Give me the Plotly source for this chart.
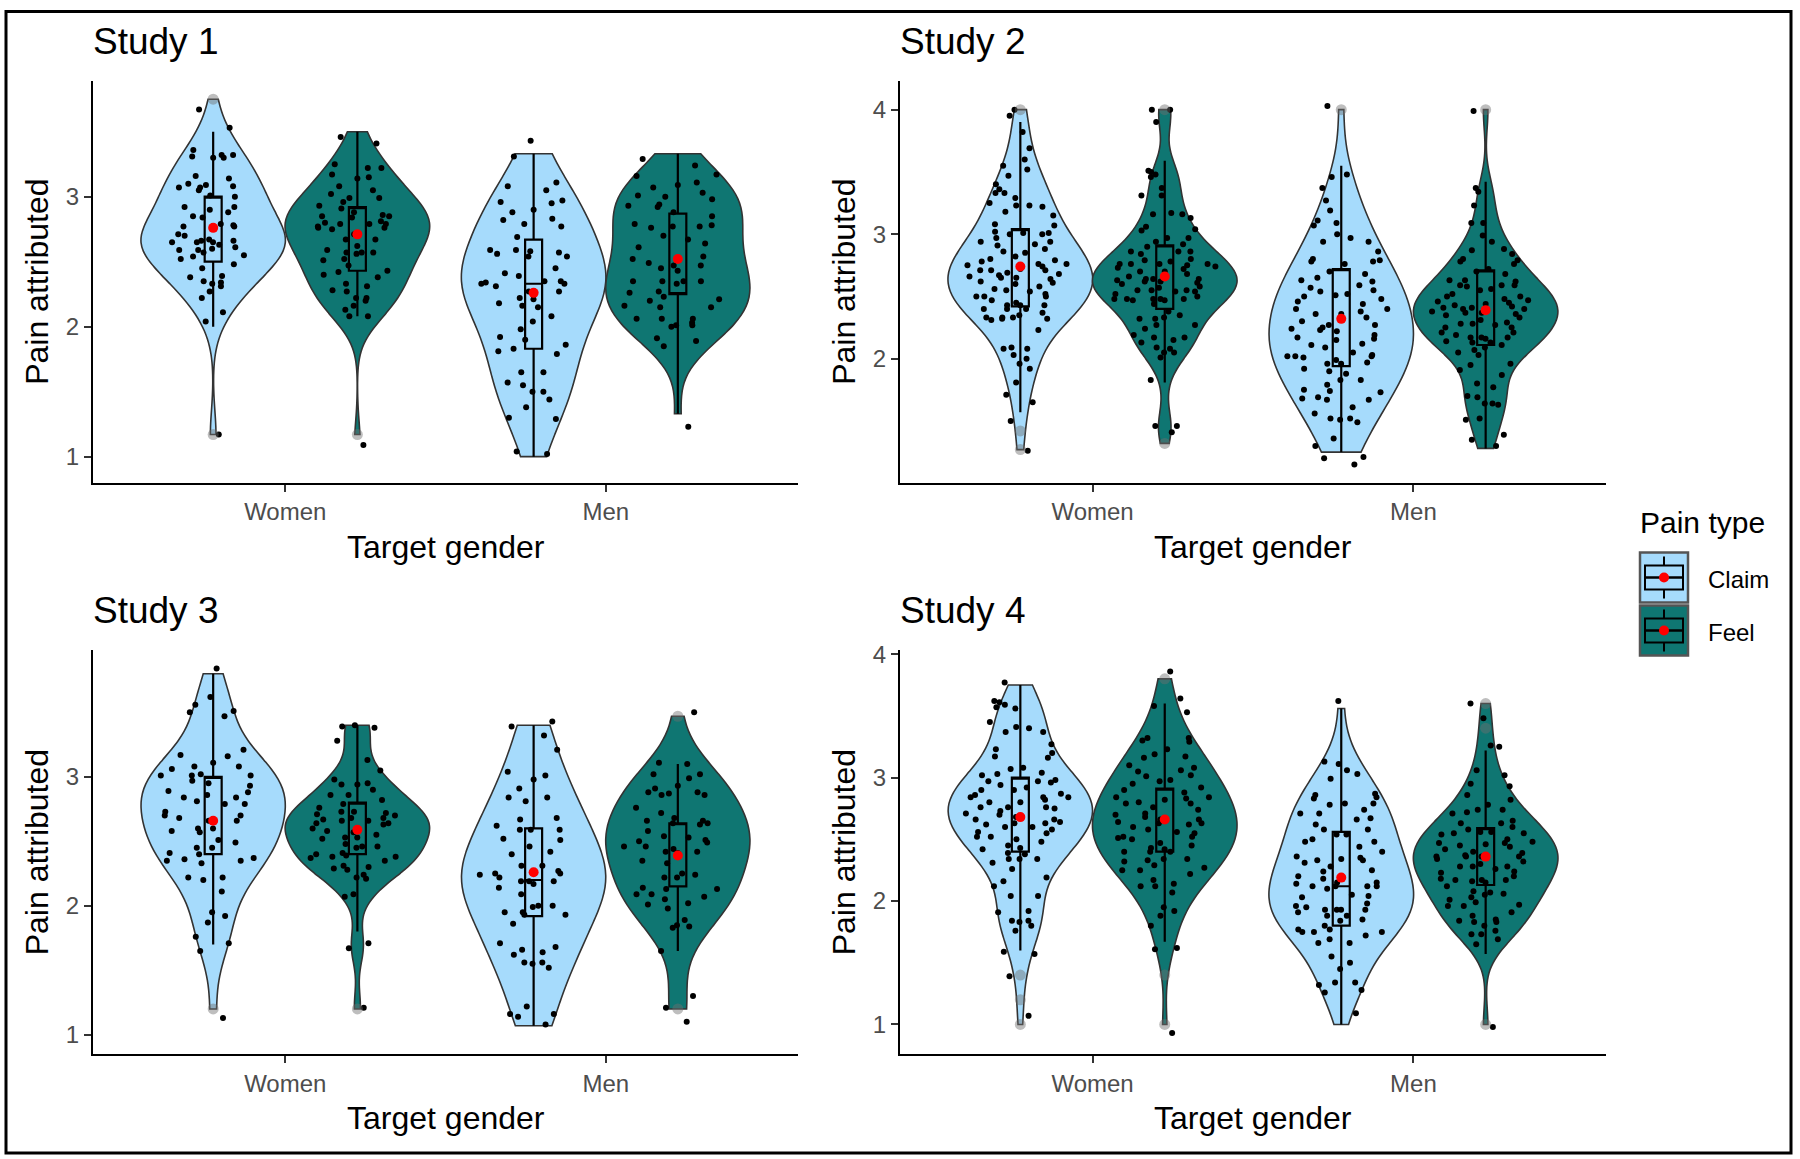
import plotly.graph_objects as go

W, H = 1800, 1159
FONT = "Liberation Sans, Arial, Helvetica, sans-serif"
CLAIM_FILL = "#A6DBFC"
FEEL_FILL = "#0F7672"
OUTLINE = "#333333"

# ---------------- data ----------------
categories = ["Women", "Men"]
pain_types = ["Claim", "Feel"]
studies = ["Study 1", "Study 2", "Study 3", "Study 4"]
# group order inside each study: Claim-Women, Feel-Women, Claim-Men, Feel-Men

s1_claim_women = [3.67, 3.53, 3.30, 3.30, 3.32, 3.32, 3.36, 3.31, 3.14, 3.16, 3.05, 3.07, 3.10, 3.09, 3.08, 3.07,
                  3.00, 3.01, 2.92, 2.92, 2.90, 2.85, 2.88, 2.84, 2.78, 2.79, 2.77, 2.77, 2.71, 2.70, 2.65, 2.66,
                  2.65, 2.66, 2.65, 2.67, 2.59, 2.59, 2.60, 2.63, 2.61, 2.55, 2.52, 2.54, 2.57, 2.48, 2.45, 2.39,
                  2.38, 2.34, 2.31, 2.35, 2.33, 2.27, 2.22, 2.11, 2.04, 1.17]
s1_feel_women = [3.46, 3.41, 3.22, 3.22, 3.15, 3.25, 3.17, 3.14, 3.08, 3.05, 3.02, 2.99, 2.99, 2.96, 2.91, 2.93,
                 2.85, 2.86, 2.88, 2.85, 2.79, 2.84, 2.79, 2.81, 2.76, 2.76, 2.80, 2.77, 2.79, 2.71, 2.67, 2.75,
                 2.67, 2.62, 2.57, 2.52, 2.47, 2.57, 2.56, 2.59, 2.57, 2.51, 2.42, 2.40, 2.43, 2.38, 2.33, 2.28,
                 2.27, 2.31, 2.22, 2.20, 2.16, 2.13, 2.22, 2.08, 2.08, 1.09]
s1_claim_men = [3.43, 3.31, 3.05, 3.08, 3.11, 2.96, 2.97, 2.95, 2.88, 2.82, 2.83, 2.90, 2.77, 2.79, 2.69, 2.59,
                2.56, 2.57, 2.54, 2.59, 2.58, 2.54, 2.45, 2.39, 2.41, 2.35, 2.31, 2.27, 2.33, 2.33, 2.34, 2.35,
                2.27, 2.21, 2.22, 2.18, 2.16, 2.15, 2.08, 2.04, 1.98, 1.90, 1.92, 1.79, 1.81, 1.86, 1.65, 1.65,
                1.57, 1.55, 1.50, 1.50, 1.44, 1.38, 1.29, 1.30, 1.04, 1.02, 1.83]
s1_feel_men = [3.24, 3.29, 3.17, 3.16, 3.07, 3.11, 3.09, 3.03, 3.00, 3.01, 2.98, 2.94, 2.92, 2.93, 2.88, 2.85,
               2.78, 2.77, 2.79, 2.77, 2.76, 2.70, 2.67, 2.64, 2.61, 2.52, 2.54, 2.47, 2.49, 2.43, 2.47, 2.45,
               2.33, 2.35, 2.35, 2.35, 2.35, 2.26, 2.23, 2.20, 2.21, 2.27, 2.16, 2.15, 2.15, 2.06, 2.06, 2.06,
               2.00, 2.01, 2.01, 2.03, 1.89, 1.91, 1.85, 1.23]

s2_claim_women = [3.95, 4.00, 3.82, 3.69, 3.60, 3.55, 3.52, 3.47, 3.40, 3.36, 3.33, 3.29, 3.33, 3.22, 3.25, 3.23,
                  3.23, 3.18, 3.15, 3.08, 3.07, 3.00, 3.01, 3.00, 3.02, 3.01, 2.94, 2.94, 2.92, 2.91, 2.86, 2.85,
                  2.80, 2.79, 2.76, 2.78, 2.76, 2.74, 2.71, 2.71, 2.71, 2.69, 2.65, 2.67, 2.65, 2.62, 2.64, 2.54,
                  2.61, 2.56, 2.50, 2.55, 2.47, 2.43, 2.40, 2.43, 2.40, 2.50, 2.43, 2.40, 2.50, 2.31, 2.33, 2.35,
                  2.32, 2.32, 2.33, 2.33, 2.23, 2.08, 2.08, 2.09, 2.03, 2.00, 1.96, 1.92, 1.81, 1.71, 1.65, 1.50,
                  1.26, 2.60, 2.68, 2.72, 2.58, 2.45, 2.82, 2.88, 2.52, 2.66, 2.75, 2.37, 2.97]
s2_feel_women = [4.00, 4.00, 3.90, 3.51, 3.46, 3.37, 3.50, 3.48, 3.31, 3.31, 3.16, 3.13, 3.17, 3.16, 3.04, 2.94,
                 2.97, 2.97, 3.03, 3.06, 2.86, 2.90, 2.86, 2.86, 2.84, 2.79, 2.76, 2.76, 2.72, 2.68, 2.76, 2.75,
                 2.76, 2.74, 2.70, 2.78, 2.64, 2.57, 2.55, 2.55, 2.62, 2.62, 2.63, 2.64, 2.64, 2.61, 2.48, 2.47,
                 2.48, 2.48, 2.48, 2.50, 2.48, 2.54, 2.54, 2.55, 2.47, 2.38, 2.33, 2.32, 2.27, 2.27, 2.32, 2.19,
                 2.17, 2.24, 2.17, 2.15, 2.13, 2.05, 2.08, 2.09, 2.05, 2.01, 1.83, 1.46, 1.41, 1.46, 2.66, 2.58,
                 2.70, 2.52, 2.80, 2.44, 2.60, 2.73, 2.35, 2.92]
s2_claim_men = [4.03, 3.48, 3.37, 3.46, 3.27, 3.19, 3.11, 3.09, 3.07, 2.97, 3.00, 2.94, 2.94, 2.80, 2.86, 2.79,
                2.76, 2.78, 2.78, 2.68, 2.59, 2.63, 2.65, 2.70, 2.52, 2.51, 2.46, 2.50, 2.54, 2.48, 2.55, 2.40,
                2.36, 2.36, 2.40, 2.38, 2.27, 2.23, 2.19, 2.12, 2.11, 2.15, 2.22, 2.16, 2.27, 2.24, 2.17, 2.05,
                2.02, 1.96, 2.01, 1.97, 1.96, 2.02, 2.02, 2.03, 1.92, 1.88, 1.79, 1.83, 1.83, 1.75, 1.74, 1.73,
                1.67, 1.69, 1.68, 1.67, 1.56, 1.61, 1.52, 1.49, 1.51, 1.52, 1.30, 1.36, 1.21, 1.15, 1.20, 2.30,
                2.44, 2.57, 2.33, 2.09, 1.99, 2.62, 2.25, 1.90]
s2_feel_men = [3.99, 3.37, 3.34, 3.23, 3.09, 3.09, 2.99, 2.94, 2.88, 2.87, 2.84, 2.78, 2.72, 2.79, 2.76, 2.70,
               2.80, 2.59, 2.59, 2.55, 2.59, 2.63, 2.63, 2.56, 2.58, 2.50, 2.48, 2.47, 2.50, 2.46, 2.44, 2.43,
               2.38, 2.41, 2.40, 2.41, 2.37, 2.37, 2.36, 2.40, 2.28, 2.25, 2.27, 2.28, 2.31, 2.29, 2.25, 2.21,
               2.21, 2.17, 2.13, 2.17, 2.19, 2.13, 2.17, 2.16, 2.09, 2.14, 2.11, 2.05, 2.03, 2.07, 1.95, 1.96,
               1.91, 1.87, 1.80, 1.77, 1.70, 1.69, 1.64, 1.63, 1.64, 1.51, 1.52, 1.39, 1.35, 1.30, 2.52, 2.45,
               2.33, 2.62, 2.42, 2.68, 2.35]

s3_claim_women = [3.84, 3.56, 3.62, 3.50, 3.51, 3.47, 3.21, 3.17, 3.11, 3.16, 3.08, 3.06, 3.08, 3.01, 2.97, 3.01,
                  3.01, 2.95, 3.02, 2.88, 2.93, 2.89, 2.86, 2.84, 2.84, 2.81, 2.79, 2.79, 2.73, 2.70, 2.70, 2.66,
                  2.60, 2.66, 2.68, 2.60, 2.57, 2.58, 2.49, 2.51, 2.45, 2.45, 2.40, 2.41, 2.35, 2.35, 2.37, 2.36,
                  2.33, 2.22, 2.22, 2.20, 2.11, 1.95, 1.92, 1.87, 1.76, 1.71, 1.65, 1.13]
s3_feel_women = [3.40, 3.38, 3.39, 3.28, 3.13, 3.05, 2.98, 2.95, 2.94, 2.94, 2.90, 2.82, 2.86, 2.86, 2.79, 2.76,
                 2.71, 2.72, 2.70, 2.68, 2.68, 2.73, 2.73, 2.67, 2.64, 2.63, 2.64, 2.66, 2.66, 2.60, 2.58, 2.53,
                 2.57, 2.55, 2.52, 2.53, 2.46, 2.46, 2.48, 2.45, 2.38, 2.37, 2.41, 2.38, 2.40, 2.39, 2.35, 2.30,
                 2.29, 2.31, 2.28, 2.21, 2.22, 2.24, 2.09, 2.07, 1.71, 1.67, 1.21]
s3_claim_men = [3.43, 3.39, 3.32, 3.21, 2.98, 3.04, 3.01, 2.91, 2.84, 2.81, 2.84, 2.67, 2.59, 2.59, 2.59, 2.68,
                2.62, 2.51, 2.46, 2.52, 2.42, 2.40, 2.31, 2.27, 2.31, 2.24, 2.25, 2.17, 2.19, 2.19, 2.19, 2.22,
                2.25, 2.14, 2.09, 2.00, 2.00, 1.99, 1.95, 1.95, 1.93, 1.93, 1.86, 1.68, 1.62, 1.56, 1.66, 1.55,
                1.52, 1.71, 1.64, 1.56, 1.22, 1.16, 1.14, 1.16, 1.08]
s3_feel_men = [3.50, 3.11, 3.10, 3.02, 2.99, 2.93, 3.02, 2.91, 2.87, 2.88, 2.88, 2.76, 2.72, 2.68, 2.86, 2.86,
               2.66, 2.64, 2.66, 2.58, 2.54, 2.53, 2.64, 2.63, 2.51, 2.50, 2.46, 2.49, 2.42, 2.41, 2.42, 2.35,
               2.46, 2.44, 2.33, 2.24, 2.22, 2.22, 2.25, 2.14, 2.09, 2.09, 2.05, 2.01, 2.13, 2.13, 2.07, 2.02,
               1.98, 1.85, 1.83, 1.89, 1.84, 1.65, 1.30, 1.10, 1.21]

s4_claim_women = [3.77, 3.59, 3.56, 3.57, 3.62, 3.61, 3.45, 3.40, 3.41, 3.37, 3.37, 3.27, 3.23, 3.20, 3.17, 3.16,
                  3.08, 3.07, 3.03, 3.02, 3.04, 2.94, 2.96, 2.97, 2.97, 2.98, 2.84, 2.84, 2.84, 2.82, 2.87, 2.80,
                  2.90, 2.90, 2.76, 2.76, 2.76, 2.73, 2.71, 2.66, 2.63, 2.63, 2.66, 2.64, 2.60, 2.60, 2.56, 2.52,
                  2.52, 2.48, 2.50, 2.62, 2.42, 2.43, 2.39, 2.34, 2.34, 2.38, 2.34, 2.31, 2.26, 2.19, 2.16, 2.12,
                  2.04, 2.04, 1.91, 1.84, 1.83, 1.84, 1.80, 1.92, 1.76, 1.57, 1.59, 1.39, 1.07, 2.70, 2.80, 2.68,
                  2.58, 2.92, 2.45, 2.75, 2.86, 2.55]
s4_feel_women = [3.86, 3.64, 3.53, 3.58, 3.30, 3.32, 3.32, 3.23, 3.19, 3.17, 3.29, 3.16, 3.10, 3.08, 3.06, 3.01,
                 3.05, 3.02, 2.90, 2.92, 2.95, 2.97, 2.98, 2.79, 2.80, 2.83, 2.82, 2.79, 2.84, 2.84, 2.71, 2.74,
                 2.63, 2.60, 2.64, 2.68, 2.66, 2.63, 2.56, 2.51, 2.50, 2.47, 2.52, 2.52, 2.43, 2.40, 2.42, 2.40,
                 2.40, 2.34, 2.34, 2.33, 2.32, 2.29, 2.27, 2.25, 2.25, 2.22, 2.17, 2.14, 2.12, 2.07, 2.12, 1.95,
                 1.92, 1.88, 1.80, 1.61, 1.62, 0.93, 2.70, 2.76, 2.66, 2.58, 2.88, 2.45, 2.55, 2.62]
s4_claim_men = [3.62, 3.13, 3.11, 3.06, 3.03, 2.99, 2.86, 2.87, 2.83, 2.84, 2.79, 2.74, 2.78, 2.79, 2.71, 2.67,
                2.71, 2.66, 2.58, 2.58, 2.54, 2.54, 2.48, 2.50, 2.48, 2.44, 2.35, 2.36, 2.33, 2.33, 2.34, 2.31,
                2.25, 2.24, 2.15, 2.14, 2.15, 2.12, 2.10, 2.12, 2.12, 2.12, 2.04, 2.03, 1.93, 1.93, 1.95, 1.96,
                1.93, 1.93, 1.91, 1.88, 1.88, 1.84, 1.85, 1.80, 1.77, 1.75, 1.75, 1.77, 1.72, 1.75, 1.69, 1.66,
                1.66, 1.55, 1.50, 1.45, 1.34, 1.32, 1.26, 1.28, 1.34, 1.09, 2.20, 2.28, 2.40, 2.05, 1.98, 2.62,
                2.18]
s4_feel_men = [3.60, 3.48, 3.26, 3.25, 3.02, 2.95, 2.86, 3.06, 2.93, 2.82, 2.78, 2.71, 2.63, 2.55, 2.74, 2.74,
               2.72, 2.65, 2.56, 2.58, 2.55, 2.63, 2.56, 2.54, 2.47, 2.47, 2.44, 2.50, 2.45, 2.46, 2.39, 2.36,
               2.36, 2.37, 2.42, 2.36, 2.34, 2.36, 2.24, 2.28, 2.23, 2.26, 2.30, 2.28, 2.28, 2.17, 2.15, 2.18,
               2.17, 2.17, 2.16, 2.05, 2.06, 2.07, 2.08, 2.03, 1.97, 1.99, 1.96, 2.01, 1.96, 1.91, 1.88, 1.83,
               1.83, 1.85, 1.84, 1.80, 1.76, 1.73, 1.69, 1.73, 1.65, 0.98, 2.40, 2.32, 2.48, 2.20, 2.60, 2.12]

# box statistics (Claim-W, Feel-W, Claim-M, Feel-M)
s1_q1 = [2.50, 2.43, 1.83, 2.25]
s1_median = [3.00, 2.92, 2.33, 2.25]
s1_q3 = [3.00, 2.92, 2.67, 2.87]
s1_lower = [2.00, 2.08, 1.00, 1.33]
s1_upper = [3.50, 3.50, 3.33, 3.33]
s1_mean = [2.76, 2.71, 2.26, 2.52]
s1_span_lo = [1.17, 1.17, 1.00, 1.33]
s1_span_hi = [3.75, 3.50, 3.33, 3.33]
s1_outliers = [[1.17, 3.75], [1.17], [], []]

s2_q1 = [2.42, 2.40, 1.94, 2.11]
s2_median = [3.04, 2.91, 2.72, 2.71]
s2_q3 = [3.04, 2.91, 2.72, 2.71]
s2_lower = [1.57, 1.81, 1.25, 1.28]
s2_upper = [3.90, 3.59, 3.55, 3.42]
s2_mean = [2.74, 2.66, 2.32, 2.39]
s2_span_lo = [1.27, 1.32, 1.25, 1.28]
s2_span_hi = [4.00, 4.00, 4.00, 4.00]
s2_outliers = [[1.27, 1.42, 4.00], [1.32, 4.00], [4.00], [4.00]]

s3_q1 = [2.40, 2.40, 1.92, 2.15]
s3_median = [3.00, 2.80, 2.20, 2.64]
s3_q3 = [3.00, 2.80, 2.60, 2.64]
s3_lower = [1.70, 1.80, 1.07, 1.65]
s3_upper = [3.80, 3.40, 3.40, 3.10]
s3_mean = [2.66, 2.59, 2.26, 2.39]
s3_span_lo = [1.20, 1.20, 1.07, 1.20]
s3_span_hi = [3.80, 3.40, 3.40, 3.47]
s3_outliers = [[1.20], [1.20], [], [1.20, 3.47]]

s4_q1 = [2.40, 2.40, 1.80, 2.13]
s4_median = [3.00, 2.91, 2.12, 2.59]
s4_q3 = [3.00, 2.91, 2.56, 2.59]
s4_lower = [1.60, 1.67, 1.00, 1.57]
s4_upper = [3.75, 3.60, 3.56, 3.22]
s4_mean = [2.68, 2.66, 2.19, 2.36]
s4_span_lo = [1.00, 1.00, 1.00, 1.00]
s4_span_hi = [3.75, 3.80, 3.56, 3.60]
s4_outliers = [[1.00, 1.20, 1.40], [1.00, 1.40, 3.80], [], [1.00, 3.40, 3.60]]

y_ranges = [[0.80, 3.89], [1.005, 4.23], [0.85, 3.98], [0.76, 4.03]]
y_ticks = [[1, 2, 3], [2, 3, 4], [1, 2, 3], [1, 2, 3, 4]]

# ---------------- layout geometry (pixels) ----------------
# the captured page shows a small top inset and slight vertical squeeze;
# target pixel rows are mapped back into figure rows here
SHOT_TOP = 9.0
SHOT_SCALE = (H + SHOT_TOP) / H


def fx(px):
    return px / W


def fy(py):
    row = py * SHOT_SCALE - SHOT_TOP
    return 1 - row / H


panel_px = [(93, 798, 80, 482), (900, 1606, 80, 482), (93, 798, 650, 1054), (900, 1606, 650, 1054)]
positions = [0.775, 1.225, 1.775, 2.225]
fills = [CLAIM_FILL, FEEL_FILL, CLAIM_FILL, FEEL_FILL]

study_values = [
    [s1_claim_women, s1_feel_women, s1_claim_men, s1_feel_men],
    [s2_claim_women, s2_feel_women, s2_claim_men, s2_feel_men],
    [s3_claim_women, s3_feel_women, s3_claim_men, s3_feel_men],
    [s4_claim_women, s4_feel_women, s4_claim_men, s4_feel_men],
]
study_q1 = [s1_q1, s2_q1, s3_q1, s4_q1]
study_med = [s1_median, s2_median, s3_median, s4_median]
study_q3 = [s1_q3, s2_q3, s3_q3, s4_q3]
study_lo = [s1_lower, s2_lower, s3_lower, s4_lower]
study_hi = [s1_upper, s2_upper, s3_upper, s4_upper]
study_mean = [s1_mean, s2_mean, s3_mean, s4_mean]
study_span_lo = [s1_span_lo, s2_span_lo, s3_span_lo, s4_span_lo]
study_span_hi = [s1_span_hi, s2_span_hi, s3_span_hi, s4_span_hi]
study_out = [s1_outliers, s2_outliers, s3_outliers, s4_outliers]

fig = go.Figure()

for p in range(4):
    xa = "x" if p == 0 else f"x{p + 1}"
    ya = "y" if p == 0 else f"y{p + 1}"
    for g in range(4):
        fig.add_trace(go.Violin(
            x0=positions[g], y=study_values[p][g], xaxis=xa, yaxis=ya,
            width=0.45, scalemode="width", spanmode="manual",
            span=[study_span_lo[p][g], study_span_hi[p][g]],
            fillcolor=fills[g], line=dict(color=OUTLINE, width=1.6), opacity=1,
            points="all", pointpos=0, jitter=0.8,
            marker=dict(color="black", size=6, line=dict(width=0)),
            box_visible=False, meanline_visible=False, showlegend=False,
            hoverinfo="y",
        ))
    for g in range(4):
        fig.add_trace(go.Box(
            x=[positions[g]], q1=[study_q1[p][g]], median=[study_med[p][g]], q3=[study_q3[p][g]],
            lowerfence=[study_lo[p][g]], upperfence=[study_hi[p][g]],
            xaxis=xa, yaxis=ya, width=0.053, whiskerwidth=0,
            fillcolor="rgba(0,0,0,0)", line=dict(color="black", width=2.2),
            boxpoints=False, showlegend=False, hoverinfo="skip",
        ))
    for g in range(4):
        outs = study_out[p][g]
        if outs:
            fig.add_trace(go.Scatter(
                x=[positions[g]] * len(outs), y=outs, xaxis=xa, yaxis=ya, mode="markers",
                marker=dict(color="rgba(110,110,110,0.45)", size=11, line=dict(width=0)),
                showlegend=False, hoverinfo="skip",
            ))
    fig.add_trace(go.Scatter(
        x=positions, y=study_mean[p], xaxis=xa, yaxis=ya, mode="markers",
        marker=dict(color="#FF0000", size=10, line=dict(width=0)),
        showlegend=False, hoverinfo="y",
    ))

layout = dict(
    width=W, height=H, margin=dict(l=0, r=0, t=0, b=0),
    paper_bgcolor="white", plot_bgcolor="white",
    violinmode="overlay", boxmode="overlay",
    font=dict(family=FONT, color="black"),
    showlegend=False,
)

annotations = []
shapes = []
for p in range(4):
    l, r, t, b = panel_px[p]
    xk = "xaxis" if p == 0 else f"xaxis{p + 1}"
    yk = "yaxis" if p == 0 else f"yaxis{p + 1}"
    xid = "x" if p == 0 else f"x{p + 1}"
    yid = "y" if p == 0 else f"y{p + 1}"
    layout[xk] = dict(
        domain=[fx(l), fx(r)], range=[0.4, 2.6], type="linear", anchor=yid,
        tickvals=[1, 2], ticktext=categories,
        showline=True, linecolor="black", linewidth=2,
        ticks="outside", ticklen=7, tickwidth=2, tickcolor="#333333",
        tickfont=dict(family=FONT, size=24, color="#4D4D4D"),
        showgrid=False, zeroline=False,
    )
    layout[yk] = dict(
        domain=[fy(b), fy(t)], range=y_ranges[p], anchor=xid,
        tickvals=y_ticks[p], ticktext=[str(v) for v in y_ticks[p]],
        showline=True, linecolor="black", linewidth=2,
        ticks="outside", ticklen=7, tickwidth=2, tickcolor="#333333",
        tickfont=dict(family=FONT, size=24, color="#4D4D4D"),
        showgrid=False, zeroline=False,
    )
    # panel title
    annotations.append(dict(
        text=studies[p], xref="paper", yref="paper", x=fx(l - 2), y=fy(t - 40),
        xanchor="left", yanchor="middle", showarrow=False,
        font=dict(family=FONT, size=37, color="black"),
    ))
    # axis titles
    annotations.append(dict(
        text="Target gender", xref="paper", yref="paper", x=fx((l + r) / 2), y=fy(b + 64),
        xanchor="center", yanchor="middle", showarrow=False,
        font=dict(family=FONT, size=32, color="black"),
    ))
    annotations.append(dict(
        text="Pain attributed", xref="paper", yref="paper", x=fx(l - 56), y=fy((t + b) / 2),
        xanchor="center", yanchor="middle", showarrow=False, textangle=-90,
        font=dict(family=FONT, size=32, color="black"),
    ))

# legend (drawn manually to mimic ggplot keys)
annotations.append(dict(
    text="Pain type", xref="paper", yref="paper", x=fx(1638), y=fy(522),
    xanchor="left", yanchor="middle", showarrow=False,
    font=dict(family=FONT, size=30, color="black"),
))
legend_tops = [552, 605]
for k, (name, col) in enumerate(zip(pain_types, [CLAIM_FILL, FEEL_FILL])):
    top = legend_tops[k]
    x0, x1 = 1640, 1688
    y0, y1 = top, top + 50
    cx, cy = (x0 + x1) / 2, (y0 + y1) / 2
    shapes.append(dict(type="rect", xref="paper", yref="paper", x0=fx(x0), x1=fx(x1), y0=fy(y1), y1=fy(y0),
                       fillcolor=col, line=dict(color="#555555", width=2.5), layer="above"))
    shapes.append(dict(type="line", xref="paper", yref="paper", x0=fx(cx), x1=fx(cx), y0=fy(y0 + 4), y1=fy(y0 + 13),
                       line=dict(color="black", width=2), layer="above"))
    shapes.append(dict(type="line", xref="paper", yref="paper", x0=fx(cx), x1=fx(cx), y0=fy(y1 - 13), y1=fy(y1 - 4),
                       line=dict(color="black", width=2), layer="above"))
    shapes.append(dict(type="rect", xref="paper", yref="paper", x0=fx(x0 + 5), x1=fx(x1 - 5),
                       y0=fy(y1 - 13), y1=fy(y0 + 13),
                       fillcolor="rgba(0,0,0,0)", line=dict(color="black", width=2), layer="above"))
    shapes.append(dict(type="line", xref="paper", yref="paper", x0=fx(x0 + 5), x1=fx(x1 - 5), y0=fy(cy), y1=fy(cy),
                       line=dict(color="black", width=2.5), layer="above"))
    shapes.append(dict(type="circle", xref="paper", yref="paper", x0=fx(cx - 5), x1=fx(cx + 5),
                       y0=fy(cy + 5), y1=fy(cy - 5), fillcolor="#FF0000", line=dict(width=0), layer="above"))
    annotations.append(dict(
        text=name, xref="paper", yref="paper", x=fx(1706), y=fy(cy + 2),
        xanchor="left", yanchor="middle", showarrow=False,
        font=dict(family=FONT, size=24, color="black"),
    ))

# outer frame (top edge kept just inside the drawable area)
frame_top = 1 - 1.5 / H
shapes.append(dict(type="rect", xref="paper", yref="paper", x0=fx(6), x1=fx(1791), y0=fy(1153), y1=frame_top,
                   fillcolor="rgba(0,0,0,0)", line=dict(color="black", width=3), layer="above"))

layout["annotations"] = annotations
layout["shapes"] = shapes
fig.update_layout(**layout)

pin_js = (
    "document.documentElement.style.margin='0px';document.documentElement.style.padding='0px';"
    "document.body.style.margin='0px';document.body.style.padding='0px';"
    "document.body.style.overflow='hidden';document.documentElement.style.overflow='hidden';"
    "var gd=document.getElementById('{plot_id}');"
    "if(gd.parentElement){gd.parentElement.style.fontSize='0px';gd.parentElement.style.lineHeight='0px';"
    "gd.parentElement.style.margin='0px';gd.parentElement.style.padding='0px';}"
    "gd.style.setProperty('position','absolute','important');"
    "gd.style.setProperty('left','0px','important');gd.style.setProperty('top','0px','important');"
    "gd.style.setProperty('margin','0px','important');"
)
fig.write_html("out.html", post_script=pin_js, config={"displayModeBar": False})
